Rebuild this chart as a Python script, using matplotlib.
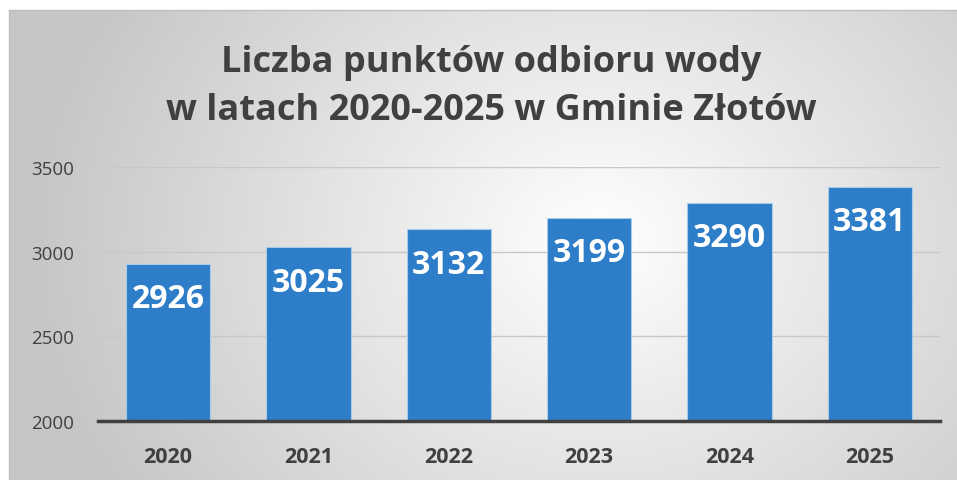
import numpy as np
import matplotlib
matplotlib.use("Agg")
import matplotlib.pyplot as plt

years = ["2020", "2021", "2022", "2023", "2024", "2025"]
values = [2926, 3025, 3132, 3199, 3290, 3381]
yticks = [2000, 2500, 3000, 3500]
title1 = "Liczba punktów odbioru wody"
title2 = "w latach 2020-2025 w Gminie Złotów"

FONT = "Open Sans"
W, H = 957, 481
fig = plt.figure(figsize=(W / 100, H / 100), dpi=100)
fig.patch.set_facecolor("white")

# background panel with radial gradient
bx0, by0 = 9, 11
bg = fig.add_axes([bx0 / W, 0, (W - bx0) / W, (H - by0) / H], zorder=0)
nx, ny = W - bx0, H - by0
xx, yy = np.meshgrid(np.arange(nx), np.arange(ny))
cx, cy = 590, 230
d = np.sqrt(((xx - cx) / 1.0) ** 2 + ((yy - cy) / 0.85) ** 2)
t = np.clip(d / 560, 0, 1)
light = 1.0 - t * (1.0 - 0.78)
img = np.dstack([light, light, light])
bg.imshow(img, aspect="auto", extent=[0, 1, 0, 1], origin="upper")
bg.set_xlim(0, 1); bg.set_ylim(0, 1)
bg.set_xticks([]); bg.set_yticks([])
for s in ["right", "bottom"]:
    bg.spines[s].set_visible(False)
for s in ["top", "left"]:
    bg.spines[s].set_color("#bfbfbf")
    bg.spines[s].set_linewidth(1)

# main axes
ax_l, ax_r = 98, 940
y0px, y1px = 422, 168
ax = fig.add_axes([ax_l / W, (H - y0px) / H, (ax_r - ax_l) / W, (y0px - y1px) / H], zorder=1)
ax.patch.set_alpha(0)
x = np.arange(len(years))
ax.bar(x, values, width=0.6, bottom=0, color="#2e7dc8", edgecolor="#a9cbea", linewidth=0.8, zorder=3)
ax.set_xlim(-0.5, len(years) - 0.5)
ax.set_ylim(2000, 3500)
ax.set_yticks(yticks)
ax.set_yticklabels([str(v) for v in yticks])
ax.set_xticks(x)
ax.set_xticklabels(years)
ax.grid(axis="y", color="#c8c8c8", linewidth=1, zorder=0)
ax.set_axisbelow(True)
for s in ["top", "right", "left"]:
    ax.spines[s].set_visible(False)
ax.spines["bottom"].set_color("#404040")
ax.spines["bottom"].set_linewidth(2.5)
ax.spines["bottom"].set_zorder(5)
ax.tick_params(axis="both", length=0)
ax.tick_params(axis="y", pad=17, labelsize=13.5, labelcolor="#404040")
ax.tick_params(axis="x", pad=18, labelsize=15.5, labelcolor="#404040")
for lab in ax.get_yticklabels():
    lab.set_fontfamily(FONT)
for lab in ax.get_xticklabels():
    lab.set_fontfamily(FONT)
    lab.set_fontweight("bold")

for xi, v in zip(x, values):
    ax.annotate(str(v), (xi, v), xytext=(0, -25), textcoords="offset points",
                ha="center", va="center", color="white", fontsize=23,
                fontweight="bold", fontfamily=FONT, zorder=6)

fig.text(491 / W, 1 - 63 / H, title1, ha="center", va="center", fontsize=26,
         fontweight="bold", color="#404040", fontfamily=FONT, zorder=3)
fig.text(491 / W, 1 - 111 / H, title2, ha="center", va="center", fontsize=26,
         fontweight="bold", color="#404040", fontfamily=FONT, zorder=3)

fig.savefig("out.png", dpi=100)
